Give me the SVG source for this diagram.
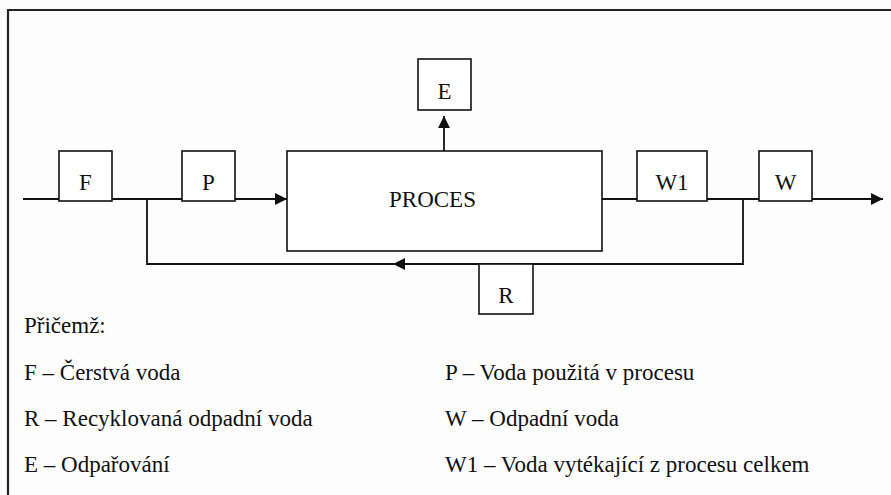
<svg xmlns="http://www.w3.org/2000/svg" width="891" height="495" viewBox="0 0 891 495">
<style>
.box{fill:#fff;stroke:#111;stroke-width:1.6}
.ln{fill:none;stroke:#111;stroke-width:1.8}
.t{font-family:'Liberation Serif',Tinos,'Times New Roman',Times,serif;font-size:23px;fill:#111}
.c{text-anchor:middle}
</style>
<defs>
<marker id="ah" viewBox="0 0 12 12" refX="12" refY="6" markerWidth="12" markerHeight="12" markerUnits="userSpaceOnUse" orient="auto">
<path d="M0,0 L12,6 L0,12 Z" fill="#111"/>
</marker>
</defs>
<rect width="891" height="495" fill="#fdfdfd"/>
<path d="M8,495 V10 H891" fill="none" stroke="#222" stroke-width="2.2"/>
<g id="connectors">
<path class="ln" d="M23,199 H59"/>
<path class="ln" d="M112,199 H182"/>
<path class="ln" d="M235,199 H287" marker-end="url(#ah)"/>
<path class="ln" d="M444,151 V116" marker-end="url(#ah)"/>
<path class="ln" d="M602,199 H637"/>
<path class="ln" d="M707,199 H759"/>
<path class="ln" d="M812,199 H883" marker-end="url(#ah)"/>
<path class="ln" d="M743,199 V264 H147 V199"/>
<path class="ln" d="M500,264 H393" marker-end="url(#ah)"/>
</g>
<g class="t" font-family="Liberation Serif, serif">
<g id="node-F"><rect class="box" x="59" y="151" width="53" height="50"/><text class="c" x="85.5" y="190">F</text></g>
<g id="node-P"><rect class="box" x="182" y="151" width="53" height="50"/><text class="c" x="208.5" y="190">P</text></g>
<g id="node-PROCES"><rect class="box" x="287" y="151" width="315" height="100"/><text class="c" x="432.5" y="207">PROCES</text></g>
<g id="node-E"><rect class="box" x="418" y="59" width="53" height="51"/><text class="c" x="444.5" y="99">E</text></g>
<g id="node-W1"><rect class="box" x="637" y="151" width="70" height="50"/><text class="c" x="672" y="190">W1</text></g>
<g id="node-W"><rect class="box" x="759" y="151" width="53" height="50"/><text class="c" x="785.5" y="190">W</text></g>
<g id="node-R"><rect class="box" x="479" y="264" width="54" height="50"/><text class="c" x="506" y="303">R</text></g>
<g id="legend">
<text x="24" y="333">Přičemž:</text>
<text x="24" y="380">F – Čerstvá voda</text>
<text x="24" y="426">R – Recyklovaná odpadní voda</text>
<text x="24" y="472">E – Odpařování</text>
<text x="445" y="380">P – Voda použitá v procesu</text>
<text x="445" y="426">W – Odpadní voda</text>
<text x="445" y="472">W1 – Voda vytékající z procesu celkem</text>
</g>
</g>
</svg>
